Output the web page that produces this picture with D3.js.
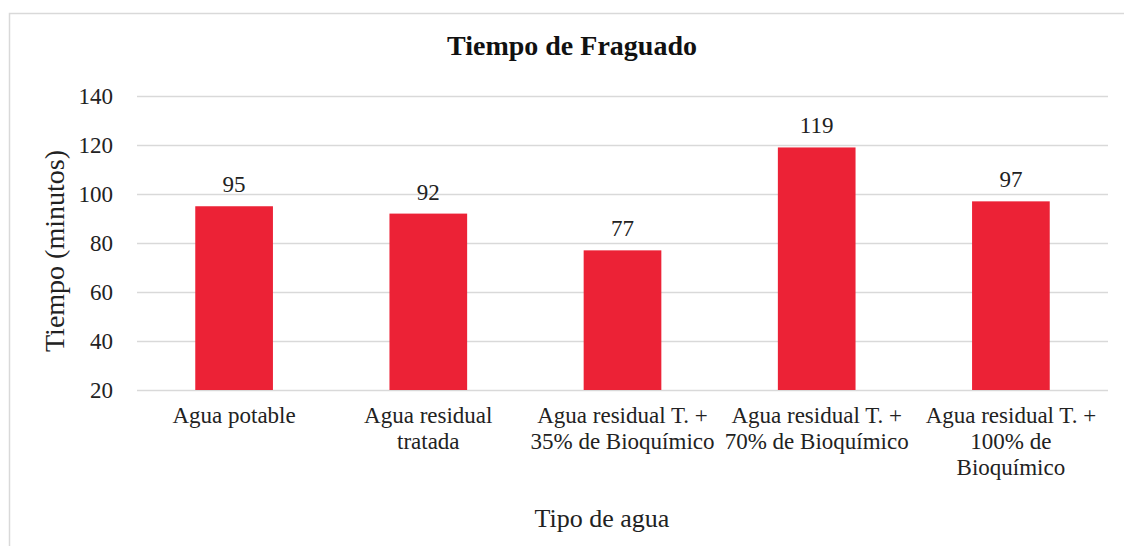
<!DOCTYPE html>
<html><head><meta charset="utf-8">
<script src="https://cdn.jsdelivr.net/npm/d3@7"></script>
<style>body{margin:0;background:#fff}svg{display:block}</style>
</head><body>
<svg id="c" width="1124" height="546"></svg>
<script>
const categories = [["Agua potable"],["Agua residual","tratada"],["Agua residual T. +","35% de Bioquímico"],["Agua residual T. +","70% de Bioquímico"],["Agua residual T. +","100% de","Bioquímico"]];
const values = [95, 92, 77, 119, 97];
const yTicks = [20, 40, 60, 80, 100, 120, 140];
const title = "Tiempo de Fraguado";
const xTitle = "Tipo de agua";
const yTitle = "Tiempo (minutos)";

const FONT = "'Liberation Serif', 'Times New Roman', Times, serif";
const svg = d3.select("#c").attr("font-family", FONT);
svg.append("rect").attr("x",9.5).attr("y",13.5).attr("width",1124).attr("height",546).attr("fill","none").attr("stroke","#d9d9d9").attr("stroke-width",1.5);

const L=137, R=1108, T=96, B=390;
const x = d3.scaleBand().domain(d3.range(values.length)).range([L,R]).paddingInner(0.6).paddingOuter(0.3);
const y = d3.scaleLinear().domain([20,140]).range([B,T]);

svg.append("g").selectAll("line").data(yTicks).join("line")
  .attr("x1",L).attr("x2",R).attr("y1",d=>Math.round(y(d))+0.5).attr("y2",d=>Math.round(y(d))+0.5)
  .attr("stroke","#d9d9d9").attr("stroke-width",1.3);

const yAxis = svg.append("g").attr("transform",`translate(${L},0)`).call(d3.axisLeft(y).tickValues(yTicks).tickSize(0).tickPadding(24));
yAxis.attr("font-family", FONT).attr("font-size", 23);
yAxis.select(".domain").remove();
yAxis.selectAll("text").attr("fill","#222").attr("dy","0.33em");

svg.append("g").selectAll("rect").data(values).join("rect")
  .attr("x",(d,i)=>x(i)).attr("width",x.bandwidth())
  .attr("y",d=>y(d)).attr("height",d=>y(20)-y(d)).attr("fill","#ec2236");

svg.append("g").selectAll("text").data(values).join("text")
  .attr("x",(d,i)=>x(i)+x.bandwidth()/2).attr("y",d=>y(d)-14)
  .attr("text-anchor","middle").attr("font-size",23).attr("fill","#222").text(d=>d);

const cg = svg.append("g");
categories.forEach((lines,i)=>{
  const t = cg.append("text").attr("text-anchor","middle").attr("font-size",23).attr("fill","#222")
    .attr("x",x(i)+x.bandwidth()/2);
  lines.forEach((s,j)=>t.append("tspan").attr("x",x(i)+x.bandwidth()/2).attr("y",423+j*26).text(s));
});

svg.append("text").attr("x",572).attr("y",55).attr("text-anchor","middle").attr("font-size",28).attr("font-weight","bold").attr("fill","#111").text(title);
svg.append("text").attr("x",602).attr("y",527).attr("text-anchor","middle").attr("font-size",26).attr("fill","#222").text(xTitle);
svg.append("text").attr("transform","translate(64,251) rotate(-90)").attr("text-anchor","middle").attr("font-size",28).attr("fill","#222").text(yTitle);
</script>
</body></html>
